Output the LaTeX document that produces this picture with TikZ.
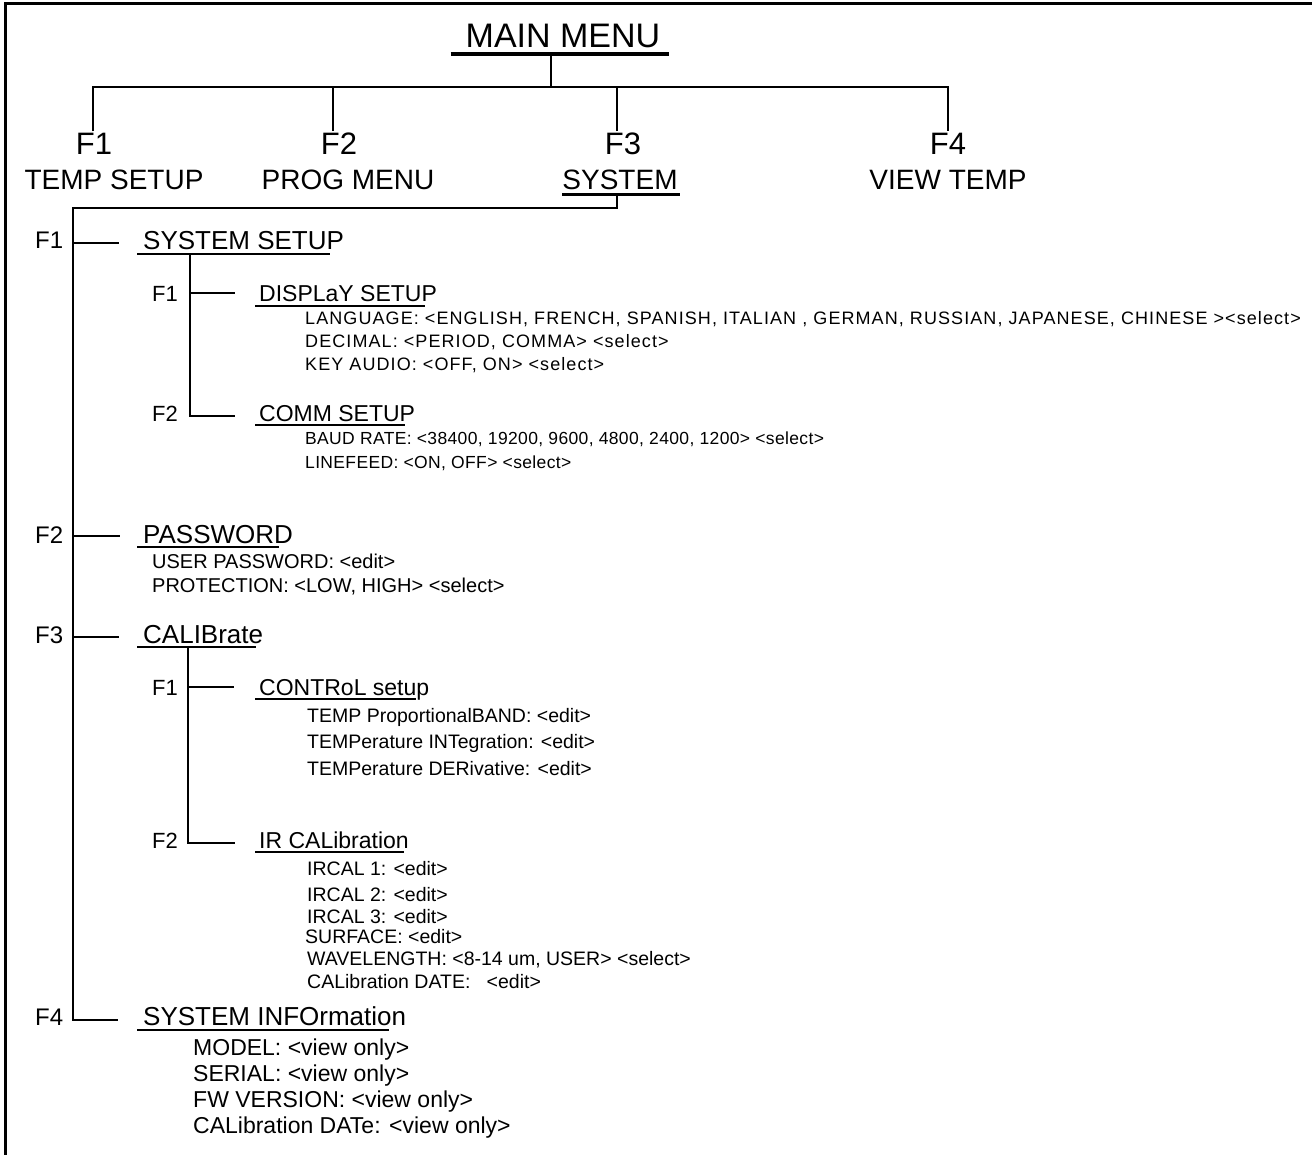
\documentclass[tikz,border=0pt]{standalone}
\usepackage{fontspec}
\setmainfont{Liberation Sans}
\newfontfamily\trackfont[LetterSpace=6]{Liberation Sans}
\newfontfamily\tracklessfont[LetterSpace=2]{Liberation Sans}
\usetikzlibrary{calc}

\tikzset{
  conn/.style={line width=2pt},
  uline/.style={line width=1.8pt},
  topkey/.style={inner sep=0pt, anchor=base, font=\fontsize{31}{36}\selectfont},
  topname/.style={inner sep=0pt, anchor=base, font=\fontsize{28}{32}\selectfont},
  key/.style={inner sep=0pt, anchor=base west, font=\fontsize{24}{28}\selectfont},
  head/.style={inner sep=0pt, anchor=base west, font=\fontsize{26}{30}\selectfont},
  subkey/.style={inner sep=0pt, anchor=base west, font=\fontsize{22}{25}\selectfont},
  subhead/.style={inner sep=0pt, anchor=base west, font=\fontsize{23}{26}\selectfont},
  entry/.style={inner sep=0pt, anchor=base west, font=\trackfont\fontsize{18}{21}\selectfont},
  commentry/.style={inner sep=0pt, anchor=base west, font=\tracklessfont\fontsize{17.5}{21}\selectfont},
  field/.style={inner sep=0pt, anchor=base west, font=\fontsize{19.5}{23}\selectfont},
  info/.style={inner sep=0pt, anchor=base west, font=\fontsize{23}{27}\selectfont},
}

\begin{document}
\begin{tikzpicture}[x=1pt, y=-1pt]
  \useasboundingbox (0,0) rectangle (1312,1155);
  % frame
  \draw[line width=3pt] (5,1160) -- (5,4) -- (1316,4);

  % main menu and the four keys
  \node[inner sep=0pt, anchor=base, font=\fontsize{34}{38}\selectfont] (mainmenu) at (563,48) {MAIN MENU};
  \draw[line width=3.5pt] ($(mainmenu.base west)+(-15,6)$) -- ($(mainmenu.base east)+(9,6)$);
  \coordinate (mmroot) at (551,54);
  \coordinate (bar) at (551,87);

  \node[topkey] (tf1) at (94,155) {F1};
  \node[topkey] (tf2) at (339,155) {F2};
  \node[topkey] (tf3) at (623,155) {F3};
  \node[topkey] (tf4) at (948,155) {F4};
  \node[topname] (tn1) at (114,190) {TEMP SETUP};
  \node[topname] (tn2) at (348,190) {PROG MENU};
  \node[topname] (tn3) at (620,190) {SYSTEM};
  \node[topname] (tn4) at (948,190) {VIEW TEMP};
  \draw[line width=3pt] ($(tn3.base west)+(0,5)$) -- ($(tn3.base east)+(2,5)$);

  \coordinate (v1) at ($(tf1.north)+(-1,-2)$);
  \coordinate (v2) at ($(tf2.north)+(-6,-2)$);
  \coordinate (v3) at ($(tf3.north)+(-6,-2)$);
  \coordinate (v4) at ($(tf4.north)+(0,-2)$);
  \draw[conn] (mmroot) -- (bar);
  \draw[conn] (v1) |- (bar) -| (v4);
  \draw[conn] (v2) -- (v2 |- bar);
  \draw[conn] (v3) -- (v3 |- bar);

  % system menu
  \node[key] (k1) at (35,249) {F1};
  \node[head] (ssetup) at (143,250) {SYSTEM SETUP};
  \node[key] (k2) at (35,543) {F2};
  \node[head] (passwd) at (143,543) {PASSWORD};
  \node[key] (k3) at (35,643) {F3};
  \node[head] (calib) at (143,643) {CALIBrate};
  \node[key] (k4) at (35,1025) {F4};
  \node[head] (sysinfo) at (143,1025) {SYSTEM INFOrmation};

  \draw[uline] ($(ssetup.base west)+(-6,4)$) -- ($(ssetup.base east)+(-14,4)$);
  \draw[uline] ($(passwd.base west)+(-6,4)$) -- ($(passwd.base east)+(-14,4)$);
  \draw[uline] ($(calib.base west)+(-6,4)$) -- ($(calib.base east)+(-7,4)$);
  \draw[uline] ($(sysinfo.base west)+(-6,5)$) -- ($(sysinfo.base east)+(-17,5)$);

  \coordinate (sysroot) at ($(tn3.base)+(-3,5)$);
  \coordinate (trunk) at (73,208);
  \coordinate (d1) at ($(ssetup.base west)+(-24,-7)$);
  \coordinate (d2) at ($(passwd.base west)+(-23,-7)$);
  \coordinate (d3) at ($(calib.base west)+(-24,-6)$);
  \coordinate (d4) at ($(sysinfo.base west)+(-25,-5)$);
  \draw[conn] (sysroot) |- (trunk) |- (d4);
  \draw[conn] (d1 -| trunk) -- (d1);
  \draw[conn] (d2 -| trunk) -- (d2);
  \draw[conn] (d3 -| trunk) -- (d3);

  % system setup
  \coordinate (ss) at ($(ssetup.base west)+(47,4)$);
  \node[subkey] (s1k) at (152,302) {F1};
  \node[subhead] (disp) at (259,302) {DISPLaY SETUP};
  \node[subkey] (s2k) at (152,421) {F2};
  \node[subhead] (comm) at (259,421) {COMM SETUP};
  \draw[uline] ($(disp.base west)+(-4,4)$) -- ($(disp.base east)+(-12,4)$);
  \draw[uline] ($(comm.base west)+(-4,4)$) -- ($(comm.base east)+(-10,4)$);
  \coordinate (e1) at ($(disp.base west)+(-24,-9)$);
  \coordinate (e2) at ($(comm.base west)+(-24,-5)$);
  \draw[conn] (ss) |- (e2);
  \draw[conn] (e1 -| ss) -- (e1);

  \foreach \y/\txt [count=\i] in {325/{LANGUAGE: <ENGLISH, FRENCH, SPANISH, ITALIAN , GERMAN, RUSSIAN, JAPANESE, CHINESE ><select>},
      348/{DECIMAL: <PERIOD, COMMA> <select>}, 371/{KEY AUDIO: <OFF, ON> <select>}}
    \node[entry] (dl\i) at (305,\y) {\txt};
  \foreach \y/\txt [count=\i] in {445/{BAUD RATE: <38400, 19200, 9600, 4800, 2400, 1200> <select>},
      468/{LINEFEED: <ON, OFF> <select>}}
    \node[commentry] (cl\i) at (305,\y) {\txt};

  % password
  \node[field, font=\fontsize{20}{23}\selectfont] (pw1) at (152,568) {USER PASSWORD: <edit>};
  \node[field, font=\fontsize{20}{23}\selectfont] (pw2) at (152,592) {PROTECTION: <LOW, HIGH> <select>};

  % calibrate
  \coordinate (cs) at ($(calib.base west)+(45,4)$);
  \node[subkey] (c1k) at (152,695) {F1};
  \node[subhead] (ctrl) at (259,695) {CONTRoL setup};
  \node[subkey] (c2k) at (152,848) {F2};
  \node[subhead] (ircal) at (259,848) {IR CALibration};
  \draw[uline] ($(ctrl.base west)+(-4,4)$) -- ($(ctrl.base east)+(-13,4)$);
  \draw[uline] ($(ircal.base west)+(-4,4)$) -- ($(ircal.base east)+(-5,4)$);
  \coordinate (e3) at ($(ctrl.base west)+(-25,-8)$);
  \coordinate (e4) at ($(ircal.base west)+(-24,-5)$);
  \draw[conn] (cs) |- (e4);
  \draw[conn] (e3 -| cs) -- (e3);

  \foreach \y/\txt [count=\i] in {722/{TEMP ProportionalBAND: <edit>},
      748/{TEMPerature INTegration: <edit>}, 775/{TEMPerature DERivative: <edit>}}
    \node[field] (tl\i) at (307,\y) {\txt};
  \foreach \x/\y/\txt [count=\i] in {307/875/{IRCAL 1: <edit>}, 307/901/{IRCAL 2: <edit>},
      307/923/{IRCAL 3: <edit>}, 305/943/{SURFACE: <edit>},
      307/965/{WAVELENGTH: <8-14 um, USER> <select>}, 307/988/{CALibration DATE:\ \ \ <edit>}}
    \node[field] (il\i) at (\x,\y) {\txt};

  % system information
  \foreach \y/\txt [count=\i] in {1055/{MODEL: <view only>}, 1081/{SERIAL: <view only>},
      1107/{FW VERSION: <view only>}, 1133/{CALibration DATe: <view only>}}
    \node[info] (si\i) at (193,\y) {\txt};
\end{tikzpicture}
\end{document}
